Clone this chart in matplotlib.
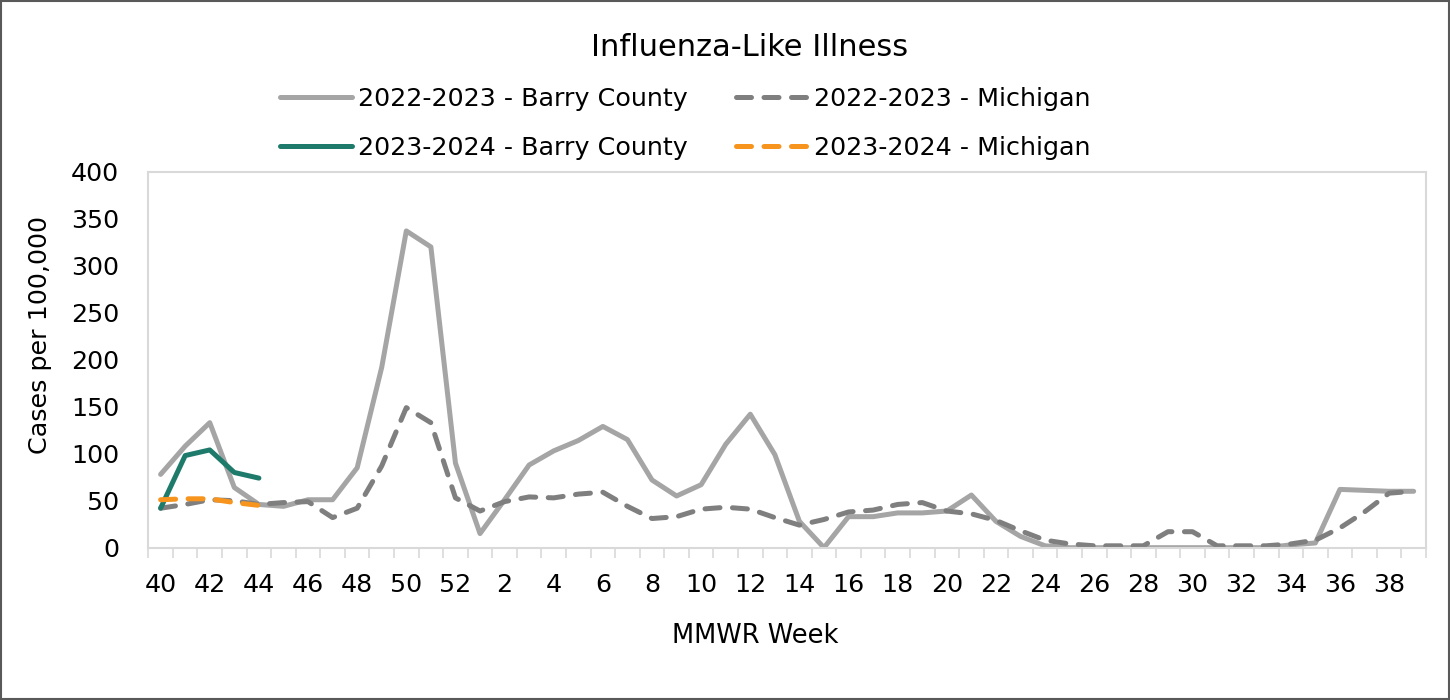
import matplotlib.pyplot as plt
import numpy as np
from matplotlib.patches import Rectangle

plt.rcParams["font.family"] = ["DejaVu Sans"]

# MMWR weeks 40..52 then 1..39
weeks = list(range(40, 53)) + list(range(1, 40))

barry_2223 = [78, 108, 133, 64, 46, 44, 51, 51, 85, 192, 337, 320, 90,
              15, 51, 88, 103, 114, 129, 115, 72, 55, 67, 110, 142, 99,
              28, 0, 33, 33, 37, 37, 39, 56, 28, 12, 2, 0, 0, 0,
              0, 0, 0, 0, 0, 0, 3, 5, 62, 61, 60, 60]
mich_2223 = [42, 46, 51, 50, 46, 48, 49, 32, 42, 87, 149, 133, 53,
             39, 49, 54, 53, 57, 59, 44, 31, 33, 41, 43, 41, 32,
             24, 30, 38, 40, 46, 48, 39, 36, 29, 18, 8, 4, 2, 2,
             2, 17, 17, 2, 2, 2, 4, 8, 21, 38, 58, 60]
barry_2324 = [42, 98, 104, 80, 74]
mich_2324 = [51, 52, 52, 48, 45]

x = np.arange(len(weeks))

fig = plt.figure(figsize=(14.5, 7), dpi=100)
ax = fig.add_axes([0.1023, 0.2176, 0.8811, 0.5371])

lw = 3.6
dash = (3.0, 2.5)
l1, = ax.plot(x, barry_2223, color="#A5A5A5", lw=lw,
              solid_capstyle="round", solid_joinstyle="round",
              label="2022-2023 - Barry County")
l2, = ax.plot(x, mich_2223, color="#7F7F7F", lw=lw, dashes=dash,
              dash_capstyle="round", dash_joinstyle="round",
              label="2022-2023 - Michigan")
l3, = ax.plot(x[:len(barry_2324)], barry_2324, color="#1E7B6B", lw=lw,
              solid_capstyle="round", solid_joinstyle="round",
              label="2023-2024 - Barry County")
l4, = ax.plot(x[:len(mich_2324)], mich_2324, color="#F7941D", lw=lw,
              dashes=dash, dash_capstyle="round", dash_joinstyle="round",
              label="2023-2024 - Michigan")

ax.set_xlim(-0.5, len(weeks) - 0.5)
ax.set_ylim(0, 400)
ax.set_yticks(range(0, 401, 50))
ax.set_xticks(x[::2])
ax.set_xticklabels([str(w) for w in weeks[::2]])
ax.set_xticks(np.arange(-0.5, len(weeks)), minor=True)
ax.tick_params(axis="x", which="major", length=0, pad=18, labelsize=18.3)
ax.tick_params(axis="x", which="minor", length=7.2, width=1.2,
               color="#D9D9D9", direction="out")
ax.tick_params(axis="y", length=0, pad=21, labelsize=18.3)
for s in ax.spines.values():
    s.set_color("#D9D9D9")
    s.set_linewidth(1.5)

fig.text(750 / 1450, 1 - 47 / 700, "Influenza-Like Illness",
         ha="center", va="center", fontsize=22)
fig.text(755 / 1450, 1 - 636 / 700, "MMWR Week",
         ha="center", va="center", fontsize=18.5)
fig.text(40 / 1450, 1 - 335 / 700, "Cases per 100,000",
         ha="center", va="center", rotation=90, fontsize=18.3)

fig.legend([l1, l3, l2, l4],
           [l1.get_label(), l3.get_label(), l2.get_label(), l4.get_label()],
           ncol=2, loc="upper left", bbox_to_anchor=(280 / 1450, 0.876),
           frameon=False, fontsize=18.3, handlelength=2.85, handletextpad=0.22,
           columnspacing=1.9, labelspacing=1.0, borderpad=0,
           borderaxespad=0)

fig.patches.append(Rectangle((0.001, 0.001), 0.998, 0.997,
                             transform=fig.transFigure, fill=False,
                             edgecolor="#595959", lw=1.5))

fig.savefig("out.png", dpi=100)
